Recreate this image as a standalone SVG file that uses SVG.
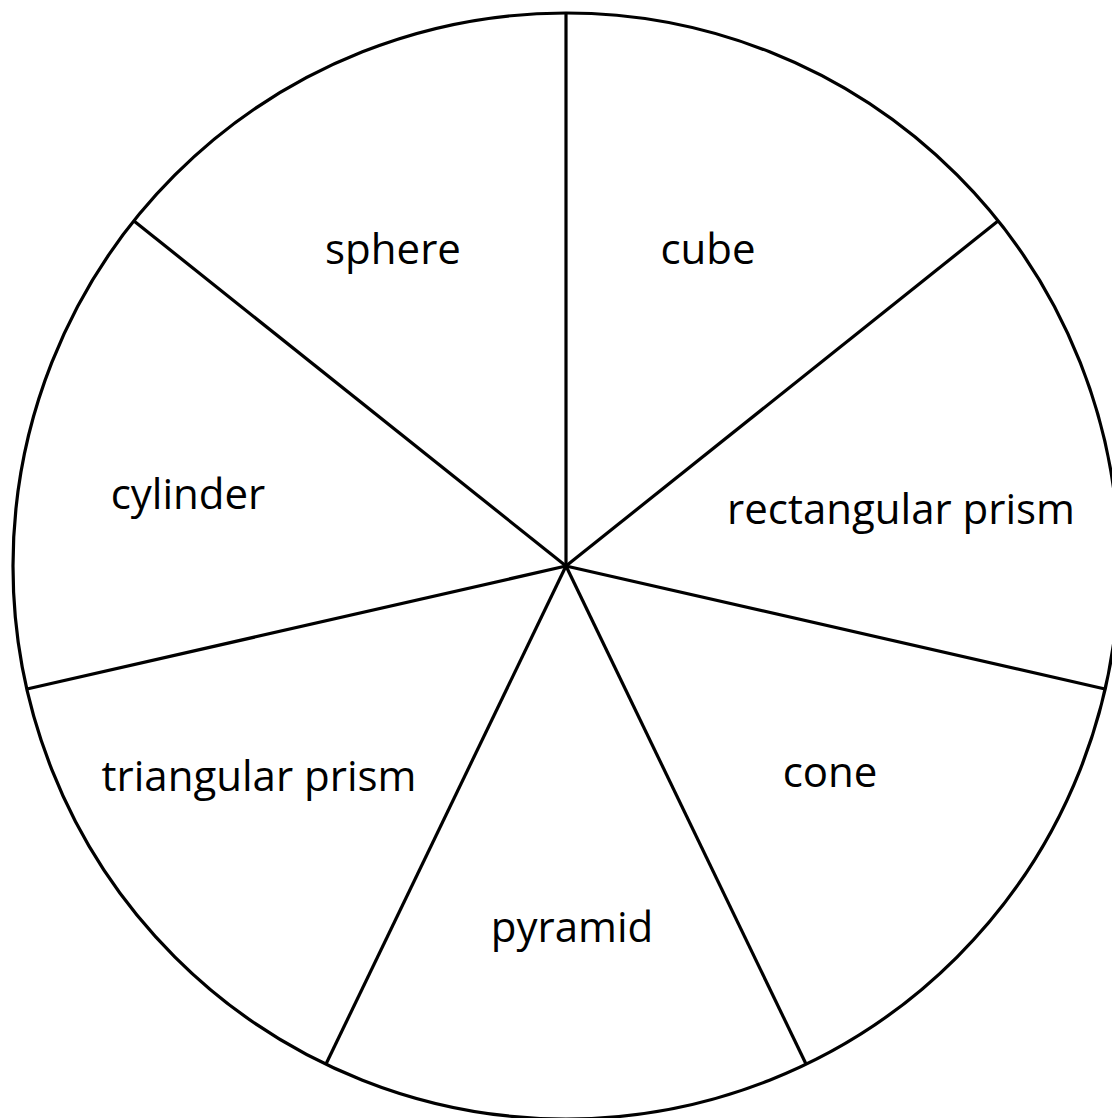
<svg xmlns="http://www.w3.org/2000/svg" width="1112" height="1118" viewBox="0 0 1112 1118">
<style>
.lbl{font-family:"Open Sans","Noto Sans",sans-serif;font-size:42px;fill:#000;text-anchor:middle}
.ln{stroke:#000;stroke-width:3.2;fill:none}
</style>
<rect width="1112" height="1118" fill="#fff"/>
<g id="wheel">
<circle class="ln" cx="566" cy="566" r="553"/>
</g>
<g id="connectors">
<line class="ln" x1="566" y1="566" x2="566" y2="13"/>
<line class="ln" x1="566" y1="566" x2="998" y2="221"/>
<line class="ln" x1="566" y1="566" x2="1105" y2="689"/>
<line class="ln" x1="566" y1="566" x2="806" y2="1064"/>
<line class="ln" x1="566" y1="566" x2="326" y2="1064"/>
<line class="ln" x1="566" y1="566" x2="27" y2="689"/>
<line class="ln" x1="566" y1="566" x2="134" y2="221"/>
</g>
<g id="n-sphere"><text class="lbl" x="393" y="264">sphere</text></g>
<g id="n-cube"><text class="lbl" x="708" y="264">cube</text></g>
<g id="n-rect"><text class="lbl" x="901" y="524">rectangular prism</text></g>
<g id="n-cone"><text class="lbl" x="830" y="787">cone</text></g>
<g id="n-pyramid"><text class="lbl" x="572" y="942">pyramid</text></g>
<g id="n-tri"><text class="lbl" x="259" y="791">triangular prism</text></g>
<g id="n-cyl"><text class="lbl" x="188" y="509">cylinder</text></g>
</svg>
